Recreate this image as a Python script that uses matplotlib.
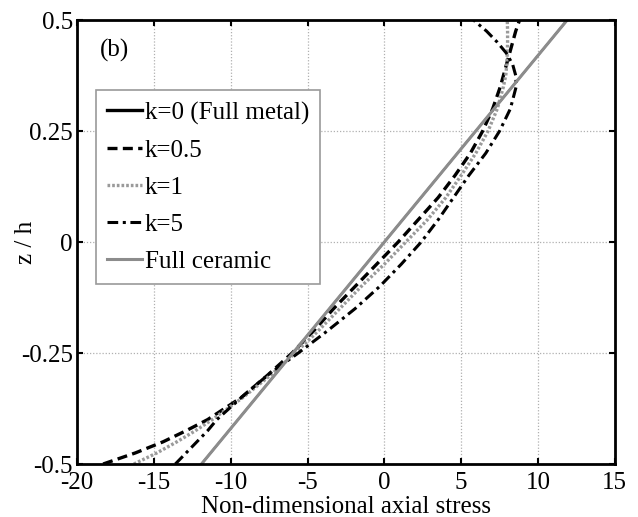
import numpy as np
import matplotlib
matplotlib.use('Agg')
import matplotlib.pyplot as plt

plt.rcParams['font.family'] = ['Liberation Serif', 'DejaVu Serif']

# ============================================================
# DATA
# ============================================================
z_lin = [-0.5, 0.5]
s_metal = [-11.9, 11.9]
s_ceramic = [-11.9, 11.9]

z_fgm = [-0.5, -0.475, -0.45, -0.425, -0.4, -0.35, -0.3, -0.25, -0.2, -0.15,
         -0.1, -0.05, 0.0, 0.05, 0.1, 0.15, 0.2, 0.25, 0.3, 0.35,
         0.375, 0.4, 0.425, 0.45, 0.475, 0.5]
s_k05 = [-18.3, -16.2, -14.4, -12.9, -11.5, -9.3, -7.6, -6.0, -4.6, -3.3,
         -1.9, -0.5, 0.9, 2.2, 3.5, 4.6, 5.6, 6.4, 7.05, 7.55,
         7.75, 7.95, 8.15, 8.35, 8.55, 8.8]
s_k1 = [-16.3, -14.8, -13.5, -12.3, -11.2, -9.2, -7.4, -5.8, -4.3, -2.9,
        -1.5, 0.0, 1.4, 2.8, 4.0, 5.0, 5.95, 6.75, 7.35, 7.75,
        7.9, 7.97, 8.0, 8.02, 8.02, 8.0]
s_k5 = [-13.6, -12.9, -12.2, -11.5, -10.9, -9.3, -7.6, -5.6, -3.7, -1.9,
        -0.3, 1.1, 2.4, 3.5, 4.5, 5.5, 6.6, 7.5, 8.2, 8.58,
        8.55, 8.35, 7.95, 7.35, 6.65, 5.8]

xticks = [-20, -15, -10, -5, 0, 5, 10, 15]
yticks = [-0.5, -0.25, 0, 0.25, 0.5]
ytick_labels = ['-0.5', '-0.25', '0', '0.25', '0.5']

# ============================================================
# PLOT
# ============================================================
fig = plt.figure(figsize=(6.38, 5.17), dpi=100)
ax = fig.add_axes([0.1207, 0.1025, 0.843, 0.8588])

ax.plot(s_metal, z_lin, color='black', lw=1.4, label='k=0 (Full metal)')
ax.plot(s_k05, z_fgm, color='black', lw=2.4, ls=(0, (3, 1.6)), label='k=0.5')
ax.plot(s_k1, z_fgm, color='#9a9a9a', lw=2.4, ls=(0, (0.8, 0.6)), label='k=1')
ax.plot(s_k5, z_fgm, color='black', lw=2.2, ls=(0, (3.5, 1.5, 1, 1.5)), label='k=5')
ax.plot(s_ceramic, z_lin, color='#8c8c8c', lw=2.2, label='Full ceramic')

ax.set_xlim(-20, 15)
ax.set_ylim(-0.5, 0.5)
ax.set_xticks(xticks)
ax.set_xticklabels([str(t) for t in xticks])
ax.set_yticks(yticks)
ax.set_yticklabels(ytick_labels)
ax.grid(True, color='#b0b0b0', ls=(0, (1, 1.5)), lw=0.9)
ax.tick_params(direction='in', length=4, width=1.5, labelsize=18,
               top=True, right=True)
ax.tick_params(axis='x', pad=6)
ax.tick_params(axis='y', pad=3)
for sp in ax.spines.values():
    sp.set_linewidth(2.0)

ax.set_xlabel('Non-dimensional axial stress', fontsize=18, labelpad=1)
ax.set_ylabel('z / h', fontsize=18)
ax.yaxis.set_label_coords(-0.074, 0.5)

ax.text(-18.5, 0.432, '(b)', fontsize=18, va='center', ha='left')

leg = ax.legend(loc='upper left', bbox_to_anchor=(0.035, 0.842), borderaxespad=0,
                fontsize=18, handlelength=1.4, handletextpad=0.1,
                labelspacing=0.58, borderpad=0.45, fancybox=False,
                framealpha=1, edgecolor='#9a9a9a')
leg.get_frame().set_linewidth(1.2)
leg.get_lines()[0].set_linewidth(2.4)

fig.savefig('out.png', dpi=100)
